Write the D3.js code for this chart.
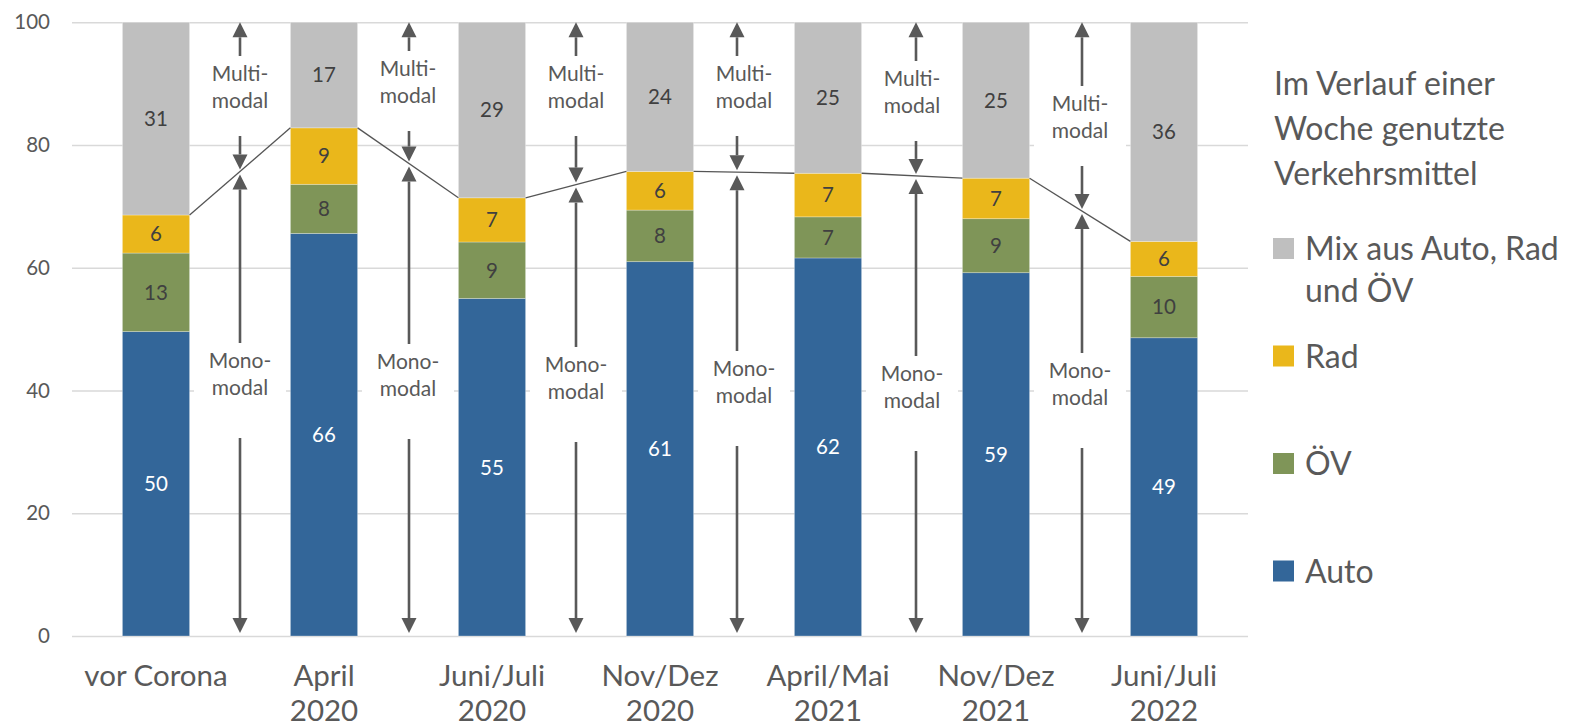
<!DOCTYPE html>
<html>
<head>
<meta charset="utf-8">
<script src="https://cdn.jsdelivr.net/npm/d3@7"></script>
<style>
  html, body { margin: 0; padding: 0; background: #ffffff; }
  svg { display: block; font-family: "Lato", "Open Sans", sans-serif; }
</style>
</head>
<body>
<svg id="chart" width="1582" height="728"></svg>
<script>
// Survey periods (line breaks mark the two-line axis labels)
const categories = ["vor Corona", "April\n2020", "Juni/Juli\n2020", "Nov/Dez\n2020", "April/Mai\n2021", "Nov/Dez\n2021", "Juni/Juli\n2022"];

// Share of respondents (%) by transport means used within one week
const auto = [49.6, 65.6, 55.0, 61.0, 61.6, 59.2, 48.6];
const oev  = [12.8,  8.0,  9.2,  8.4,  6.7,  8.8, 10.0];
const rad  = [ 6.2,  9.2,  7.2,  6.3,  7.1,  6.6,  5.7];
const mix  = [31.4, 17.2, 28.6, 24.3, 24.6, 25.4, 35.7];

const seriesNames = ["Auto", "ÖV", "Rad", "Mix aus Auto, Rad und ÖV"];
const yTicks = [0, 20, 40, 60, 80, 100];

const legendTitle = ["Im Verlauf einer", "Woche genutzte", "Verkehrsmittel"];
const legendOrder = ["Mix aus Auto, Rad\nund ÖV", "Rad", "ÖV", "Auto"];

const multiText = ["Multi-", "modal"];
const monoText = ["Mono-", "modal"];

// ---- layout ----
const svg = d3.select("#chart");
const plot = { left: 72, right: 1248, top: 22.3, bottom: 636 };
const colors = { "Auto": "#336699", "ÖV": "#7f9558", "Rad": "#eab71b", "Mix aus Auto, Rad und ÖV": "#bfbfbf" };
const textColor = "#595959";
const arrowColor = "#595959";

// hand-placed annotation tweaks per gap between bars
const arrowShift = [0, 1, 0, -7, 4, 2];
const multiCenter = [87, 82, 87, 87, 92, 117];
const monoCenter = [374, 375, 378, 382, 387, 384];

const x = d3.scaleBand().domain(categories).range([plot.left, plot.right])
  .paddingInner(0.6).paddingOuter(0.3);
const y = d3.scaleLinear().domain([0, 100]).range([plot.bottom, plot.top]);

const rows = categories.map((c, i) => ({ cat: c, "Auto": auto[i], "ÖV": oev[i], "Rad": rad[i], "Mix aus Auto, Rad und ÖV": mix[i] }));
const stacked = d3.stack().keys(seriesNames)(rows);

// gridlines and y tick labels
const yAxis = svg.append("g")
  .attr("transform", `translate(${plot.left},0)`)
  .call(d3.axisLeft(y).tickValues(yTicks).tickSize(-(plot.right - plot.left)).tickPadding(22));
yAxis.select(".domain").remove();
yAxis.selectAll(".tick line").attr("stroke", "#d9d9d9").attr("stroke-width", 1.6);
yAxis.selectAll(".tick text").attr("fill", textColor).style("font-size", "20.5px")
  .style("font-family", "Lato, sans-serif");

// x axis labels
const xAxis = svg.append("g")
  .attr("transform", `translate(0,${plot.bottom})`)
  .call(d3.axisBottom(x).tickSize(0).tickPadding(0));
xAxis.select(".domain").remove();
xAxis.selectAll(".tick text").each(function (d) {
  const t = d3.select(this);
  t.text(null).attr("fill", textColor).style("font-size", "29.5px")
    .style("font-family", "Lato, sans-serif").attr("dy", null).attr("y", 0);
  d.split("\n").forEach((line, k) => {
    t.append("tspan").attr("x", 0).attr("y", 50 + k * 35).text(line);
  });
});

// stacked bars
const layers = svg.append("g").selectAll("g").data(stacked).join("g")
  .attr("fill", s => colors[s.key]);
layers.selectAll("rect").data(s => s).join("rect")
  .attr("x", d => x(d.data.cat))
  .attr("width", x.bandwidth())
  .attr("y", d => y(d[1]))
  .attr("height", d => y(d[0]) - y(d[1]))
  .attr("stroke", "#ffffff").attr("stroke-opacity", 0.35).attr("stroke-width", 0.8);

// value labels
const fmt = v => String(Math.round(v));
const labels = svg.append("g").style("font-size", "20.5px").attr("text-anchor", "middle");
stacked.forEach(s => {
  labels.selectAll(null).data(s).join("text")
    .attr("x", d => x(d.data.cat) + x.bandwidth() / 2)
    .attr("y", d => (y(d[0]) + y(d[1])) / 2)
    .attr("dy", "0.36em")
    .attr("fill", s.key === "Auto" ? "#ffffff" : "#404040")
    .text(d => fmt(d[1] - d[0]));
});

// series lines between the tops of the mono-modal shares
const radTop = stacked[2].map(d => d[1]);
const connectors = d3.range(categories.length - 1).map(i => ({
  x1: x(categories[i]) + x.bandwidth(), y1: y(radTop[i]),
  x2: x(categories[i + 1]), y2: y(radTop[i + 1])
}));
svg.append("g").selectAll("line").data(connectors).join("line")
  .attr("x1", d => d.x1).attr("y1", d => d.y1)
  .attr("x2", d => d.x2).attr("y2", d => d.y2)
  .attr("stroke", "#555555").attr("stroke-width", 1.3);

// Multi-/Mono-modal annotations with arrows
const ann = svg.append("g");
const headW = 7.5, headH = 15;
function arrow(g, ax, yFrom, yTip) {
  const dir = yTip < yFrom ? -1 : 1;
  const base = yTip - dir * headH;
  g.append("line").attr("x1", ax).attr("x2", ax).attr("y1", yFrom).attr("y2", base)
    .attr("stroke", arrowColor).attr("stroke-width", 2.6);
  g.append("path")
    .attr("d", `M${ax},${yTip}L${ax - headW},${base}L${ax + headW},${base}Z`)
    .attr("fill", arrowColor);
}
function textBox(g, cx, cy, lines) {
  g.append("rect").attr("x", cx - 46).attr("y", cy - 31).attr("width", 92).attr("height", 62)
    .attr("fill", "#ffffff");
  lines.forEach((ln, k) => {
    g.append("text").attr("x", cx).attr("y", cy + (k - 0.5) * 27.5).attr("dy", "0.36em")
      .attr("text-anchor", "middle").attr("fill", textColor).style("font-size", "21px").text(ln);
  });
}
connectors.forEach((c, i) => {
  const cx = (c.x1 + c.x2) / 2;
  const ax = cx + arrowShift[i];
  const t = (ax - c.x1) / (c.x2 - c.x1);
  const lineY = c.y1 + t * (c.y2 - c.y1);
  const g = ann.append("g");
  textBox(g, cx, multiCenter[i], multiText);
  textBox(g, cx, monoCenter[i], monoText);
  arrow(g, ax, multiCenter[i] - 31, y(100));
  arrow(g, ax, multiCenter[i] + 49, lineY - 2);
  arrow(g, ax, monoCenter[i] - 31, lineY + 3);
  arrow(g, ax, monoCenter[i] + 64, y(0) - 3);
});

// legend
const leg = svg.append("g").attr("fill", textColor).style("font-size", "32px");
legendTitle.forEach((ln, k) => {
  leg.append("text").attr("x", 1274).attr("y", 95 + k * 45).text(ln);
});
const legKeys = ["Mix aus Auto, Rad und ÖV", "Rad", "ÖV", "Auto"];
legendOrder.forEach((name, k) => {
  const base = 259 + k * 107.5;
  leg.append("rect").attr("x", 1273).attr("y", base - 21).attr("width", 21).attr("height", 21)
    .attr("fill", colors[legKeys[k]]);
  name.split("\n").forEach((ln, j) => {
    leg.append("text").attr("x", 1305).attr("y", base + 1 + j * 42).text(ln);
  });
});
</script>
</body>
</html>
